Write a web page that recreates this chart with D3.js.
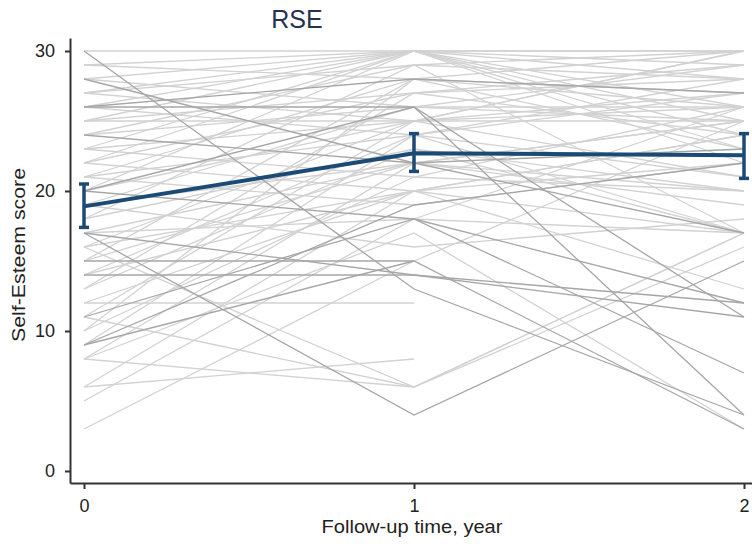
<!DOCTYPE html>
<html>
<head>
<meta charset="utf-8">
<script src="https://cdn.jsdelivr.net/npm/d3@7"></script>
<style>
  html, body { margin: 0; padding: 0; background: #fff; }
  svg { display: block; }
</style>
</head>
<body>
<svg id="chart" width="752" height="544"></svg>
<script>
// ---- data ----
const timePoints = [0, 1, 2];
const xTickLabels = ["0", "1", "2"];
const yTickValues = [0, 10, 20, 30];

// individual trajectories: score at year 0, 1, 2 (null = missing)
const subjScore0 = [30,30,29,29,28,28,27,27,26,26,26,25,25,24,24,23,23,22,22,21,21,20,20,20,19,19,18,18,17,17,17,17,16,16,15,15,14,14,13,13,12,12,11,11,10,10,9,9,8,8,6,6,5,3,16,25,22,19,24,28,14,21,27,23,11,8,9,15,20,26];
const subjScore1 = [30,13,28,30,26,30,29,25,28,24,30,27,30,26,22,30,25,27,20,28,24,30,25,18,22,26,23,29,4,18,14,22,20,25,22,28,20,24,27,23,12,20,25,18,21,28,19,24,22,17,8,20,18,15,6,25,30,16,29,22,14,19,30,21,6,6,15,15,26,26];
const subjScore2 = [30,4,27,29,25,24,30,26,27,17,28,29,22,26,17,25,30,24,17,26,28,23,21,12,25,29,20,17,15,17,11,25,22,27,19,30,24,21,28,17,null,24,30,7,26,23,22,27,20,3,null,13,26,25,17,25,30,18,28,23,12,22,26,20,17,16,null,3,4,11];
const subjDark = [0,1,0,0,0,0,0,0,1,0,0,0,0,0,1,0,0,0,0,0,0,0,0,1,0,0,0,0,1,0,1,0,0,0,0,0,0,0,0,0,0,0,0,1,0,0,1,0,0,0,0,0,0,0,0,0,0,0,0,1,1,0,0,0,0,0,1,1,1,1];

// group mean and 95% CI
const meanScore = [18.9, 22.7, 22.55];
const ciLow = [17.4, 21.4, 20.9];
const ciHigh = [20.5, 24.1, 24.1];

// ---- layout ----
const svg = d3.select("#chart");
const x = d3.scaleLinear().domain([-14/330, 2 + 8/330]).range([70, 752]);
const y = d3.scaleLinear().domain([-12/14, 30 + 13/14]).range([483, 38]);

const FONT = "Arial, 'Liberation Sans', sans-serif";

// spaghetti lines
const subjects = subjScore0.map((v, i) => ({
  vals: [subjScore0[i], subjScore1[i], subjScore2[i]],
  dark: subjDark[i] === 1
}));
const line = d3.line()
  .defined(d => d.v !== null)
  .x(d => x(d.t))
  .y(d => y(d.v));

const gLines = svg.append("g");
subjects.slice().sort((a, b) => a.dark - b.dark).forEach(s => {
  gLines.append("path")
    .datum(timePoints.map((t, j) => ({ t, v: s.vals[j] })))
    .attr("d", line)
    .attr("fill", "none")
    .attr("stroke", s.dark ? "#a6a6a6" : "#d2d2d2")
    .attr("stroke-width", 1.3);
});

// axes
const yAxis = d3.axisLeft(y).tickValues(yTickValues).tickSize(5).tickPadding(10).tickSizeOuter(0);
const gy = svg.append("g").attr("transform", "translate(70,0)").call(yAxis);
const xAxis = d3.axisBottom(x).tickValues(timePoints).tickFormat((d, i) => xTickLabels[i]).tickSize(6).tickPadding(10).tickSizeOuter(0);
const gx = svg.append("g").attr("transform", "translate(0,483)").call(xAxis);
[gx, gy].forEach(g => {
  g.select(".domain").attr("stroke", "#333").attr("stroke-width", 2);
  g.selectAll(".tick line").attr("stroke", "#333").attr("stroke-width", 2);
  g.selectAll(".tick text").attr("fill", "#222").style("font-family", FONT).style("font-size", "18px");
});

// mean line + error bars
const navy = "#1b4a74";
svg.append("path")
  .datum(timePoints.map((t, j) => ({ t, v: meanScore[j] })))
  .attr("d", line)
  .attr("fill", "none")
  .attr("stroke", navy)
  .attr("stroke-width", 4)
  .attr("stroke-linejoin", "round");

const gErr = svg.append("g");
timePoints.forEach((t, j) => {
  const cx = x(t);
  gErr.append("line")
    .attr("x1", cx).attr("x2", cx)
    .attr("y1", y(ciLow[j])).attr("y2", y(ciHigh[j]))
    .attr("stroke", navy).attr("stroke-width", 3.5);
  [ciLow[j], ciHigh[j]].forEach(v => {
    gErr.append("line")
      .attr("x1", cx - 5).attr("x2", cx + 5)
      .attr("y1", y(v)).attr("y2", y(v))
      .attr("stroke", navy).attr("stroke-width", 3.5);
  });
});

// titles
svg.append("text")
  .attr("x", 297).attr("y", 28)
  .attr("text-anchor", "middle")
  .attr("fill", "#24324f")
  .style("font-family", FONT).style("font-size", "25px")
  .text("RSE");

svg.append("text")
  .attr("x", 412).attr("y", 533)
  .attr("text-anchor", "middle")
  .attr("fill", "#222")
  .attr("textLength", 181).attr("lengthAdjust", "spacingAndGlyphs")
  .style("font-family", FONT).style("font-size", "19px")
  .text("Follow-up time, year");

svg.append("text")
  .attr("transform", "translate(25,255) rotate(-90)")
  .attr("text-anchor", "middle")
  .attr("fill", "#222")
  .attr("textLength", 174).attr("lengthAdjust", "spacingAndGlyphs")
  .style("font-family", FONT).style("font-size", "18px")
  .text("Self-Esteem score");
</script>
</body>
</html>
